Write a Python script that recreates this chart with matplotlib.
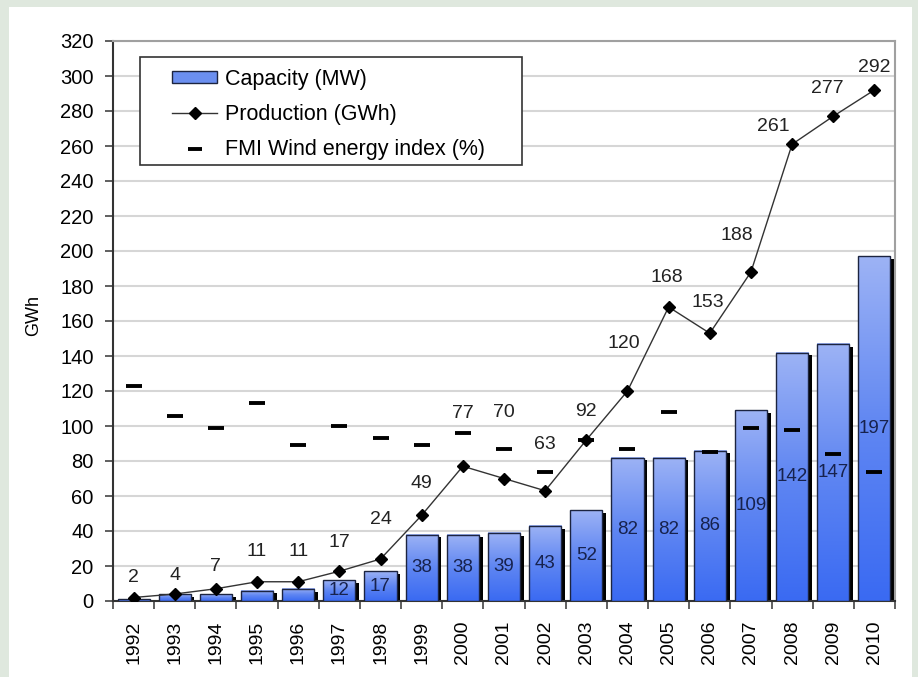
import numpy as np
import matplotlib
matplotlib.use("Agg")
import matplotlib.pyplot as plt
from matplotlib import colors
from matplotlib.patches import Rectangle
from matplotlib.lines import Line2D

plt.rcParams['font.family'] = ['Liberation Sans', 'DejaVu Sans']

# ─────────────────────────────────────────────
# DATA
# ─────────────────────────────────────────────
years = ["1992", "1993", "1994", "1995", "1996", "1997", "1998", "1999", "2000",
         "2001", "2002", "2003", "2004", "2005", "2006", "2007", "2008", "2009", "2010"]
capacity_mw = [1, 4, 4, 6, 7, 12, 17, 38, 38, 39, 43, 52, 82, 82, 86, 109, 142, 147, 197]
production_gwh = [2, 4, 7, 11, 11, 17, 24, 49, 77, 70, 63, 92, 120, 168, 153, 188, 261, 277, 292]
wind_index_pct = [123, 106, 99, 113, 89, 100, 93, 89, 96, 87, 74, 92, 87, 108, 85, 99, 98, 84, 74]
# capacity values are printed inside the bars from 1997 on
first_cap_label = 5

# label offsets (pixels) for the production values, placed by hand
prod_label_dx = [0, 0, 0, 0, 0, 0, 0, 0, 0, 0, 0, 0, -4, -2, -2, -14, -19, -6, 0]
prod_label_dy = [20, 19, 22, 30, 30, 29, 39, 32, 53, 66, 46, 28, 48, 30, 31, 36, 18, 28, 23]

# ─────────────────────────────────────────────
# STYLE
# ─────────────────────────────────────────────
BAR_W = 0.78
bar_cmap = colors.LinearSegmentedColormap.from_list("bar", ["#3a6af2", "#5f86f2", "#9db3f5"])
px = 0.72  # points per pixel at dpi 100

fig = plt.figure(figsize=(9.18, 6.77), dpi=100, facecolor="#dfe8de")
fig.patches.append(Rectangle((9 / 918, 0), (912 - 9) / 918, 1 - 7 / 677,
                             transform=fig.transFigure, facecolor="white",
                             edgecolor="none", zorder=-10))
ax = fig.add_axes([113 / 918, 76 / 677, 782 / 918, 560 / 677])
ax.set_facecolor("white")

x = np.arange(len(years))
grad = np.linspace(0, 1, 256).reshape(-1, 1)

for i, v in enumerate(capacity_mw):
    x0 = x[i] - BAR_W / 2
    # drop shadow
    ax.add_patch(Rectangle((x0 + 0.09, 0), BAR_W, max(v - 1.6, 0),
                           facecolor="black", edgecolor="none", zorder=2))
    ax.imshow(grad, cmap=bar_cmap, extent=[x0, x0 + BAR_W, 0, v], origin="lower",
              aspect="auto", zorder=3, interpolation="bilinear")
    ax.add_patch(Rectangle((x0, 0), BAR_W, v, facecolor="none",
                           edgecolor="#1c2440", linewidth=1.0, zorder=4))
    if i >= first_cap_label:
        ax.text(x[i], v / 2, str(v), ha="center", va="center", fontsize=13.5,
                color="#17224d", zorder=6)

# wind energy index dashes
ax.plot(x, wind_index_pct, linestyle="none", marker="_", markersize=12,
        markeredgewidth=2.8, color="black", zorder=7)

# production line
ax.plot(x, production_gwh, color="#333333", linewidth=1.0, marker="D",
        markersize=6, markerfacecolor="black", markeredgecolor="black", zorder=8)
for i, v in enumerate(production_gwh):
    ax.annotate(str(v), (x[i], v), xytext=(prod_label_dx[i] * px, prod_label_dy[i] * px),
                textcoords="offset points", ha="center", va="center",
                fontsize=14, color="#222222", zorder=9)

# ─────────────────────────────────────────────
# AXES
# ─────────────────────────────────────────────
ax.set_xlim(-0.5, len(years) - 0.5)
ax.set_ylim(0, 320)
ax.set_yticks(np.arange(0, 321, 20))
ax.yaxis.grid(True, color="#d6d6d6", linewidth=1.5, zorder=0)
ax.set_axisbelow(True)

ax.set_xticks(x)
ax.set_xticklabels(years, rotation=90, fontsize=14)
ax.set_xticks(np.arange(-0.5, len(years), 1), minor=True)
ax.tick_params(axis="x", which="major", length=0, pad=14)
ax.tick_params(axis="x", which="minor", length=6, width=1.2, color="#444444")
ax.tick_params(axis="y", length=6, width=1.2, color="#444444", labelsize=14.5, pad=8)
ax.set_ylabel("GWh", fontsize=13)
ax.yaxis.set_label_coords(-0.090, 0.51)

for side in ("left", "bottom"):
    ax.spines[side].set_color("#333333")
    ax.spines[side].set_linewidth(1.5)
for side in ("top", "right"):
    ax.spines[side].set_color("#a0a0a0")
    ax.spines[side].set_linewidth(1.5)

# legend: frame drawn separately so it can be wider than the entries
ax.add_patch(Rectangle((0.0345, 0.7786), 0.523 - 0.0345, 0.9714 - 0.7786,
                       transform=ax.transAxes, facecolor="white",
                       edgecolor="#333333", linewidth=1.2, zorder=10))
handles = [
    Rectangle((0, 0), 1, 1, facecolor="#6b8ff0", edgecolor="#1c2440", linewidth=1.0),
    Line2D([], [], color="#333333", linewidth=1.0, marker="D", markersize=6,
           markerfacecolor="black", markeredgecolor="black"),
    Line2D([], [], linestyle="none", marker="_", markersize=10, markeredgewidth=2.8,
           color="black"),
]
leg = ax.legend(handles, ["Capacity (MW)", "Production (GWh)", "FMI Wind energy index (%)"],
                loc="upper left", bbox_to_anchor=(0.0754, 0.950), fontsize=15.5,
                frameon=False, handlelength=2.1, handleheight=0.5, borderpad=0,
                labelspacing=0.66, handletextpad=0.35, borderaxespad=0)
leg.set_zorder(11)

plt.savefig("out.png", dpi=100, facecolor=fig.get_facecolor())
plt.close()
